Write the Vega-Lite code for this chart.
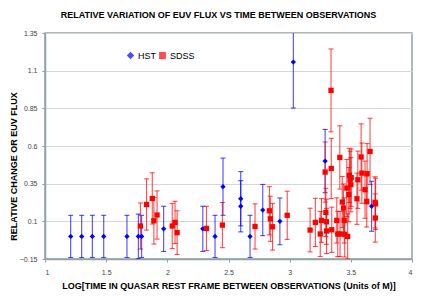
{
  "$schema": "https://vega.github.io/schema/vega-lite/v6.json",
  "width": 367,
  "height": 226,
  "autosize": {"type": "none"},
  "padding": {"left": 45, "top": 33, "right": 24, "bottom": 40},
  "background": "white",
  "title": {"text": "RELATIVE VARIATION OF EUV FLUX VS TIME BETWEEN OBSERVATIONS", "font": "Liberation Sans", "fontSize": 9, "fontWeight": "bold", "color": "#000000", "anchor": "middle", "offset": 9, "dx": -10},
  "config": {
    "view": {"stroke": "#8fa3a3", "strokeWidth": 1.5},
    "axis": {"labelFont": "Liberation Sans", "labelFontSize": 7, "labelColor": "#444444", "titleFont": "Liberation Sans", "titleFontSize": 9, "titleFontWeight": "bold", "titleColor": "#000000", "domainColor": "#8fa3a3", "domainWidth": 1.5, "tickColor": "#8fa3a3", "tickSize": 3, "format": ".3~g", "tickCount": 20, "labelOverlap": false},
    "legend": {"labelFont": "Liberation Sans", "labelFontSize": 9, "labelColor": "#000000", "gridAlign": "none"}
  },
  "data": {"values": [
    {"series": "HST", "x": 1.21, "y": 0.0, "e": 0.14},
    {"series": "HST", "x": 1.30, "y": 0.0, "e": 0.14},
    {"series": "HST", "x": 1.387, "y": 0.0, "e": 0.14},
    {"series": "HST", "x": 1.48, "y": 0.0, "e": 0.14},
    {"series": "HST", "x": 1.67, "y": 0.0, "e": 0.14},
    {"series": "HST", "x": 1.763, "y": 0.0, "e": 0.148},
    {"series": "HST", "x": 1.79, "y": 0.0, "e": 0.14},
    {"series": "HST", "x": 1.97, "y": 0.05, "e": 0.15},
    {"series": "HST", "x": 2.29, "y": 0.05, "e": 0.15},
    {"series": "HST", "x": 2.39, "y": 0.0, "e": 0.14},
    {"series": "HST", "x": 2.455, "y": 0.33, "e": 0.19},
    {"series": "HST", "x": 2.60, "y": 0.25, "e": 0.18},
    {"series": "HST", "x": 2.60, "y": 0.20, "e": 0.17},
    {"series": "HST", "x": 2.676, "y": 0.0, "e": 0.14},
    {"series": "HST", "x": 2.78, "y": 0.175, "e": 0.17},
    {"series": "HST", "x": 2.92, "y": 0.10, "e": 0.155},
    {"series": "HST", "x": 3.03, "y": 1.157, "e": 0.305},
    {"series": "HST", "x": 3.29, "y": 0.50, "e": 0.21},
    {"series": "HST", "x": 3.67, "y": 0.20, "e": 0.166},
    {"series": "SDSS", "x": 1.78, "y": 0.069, "e": 0.153},
    {"series": "SDSS", "x": 1.83, "y": 0.212, "e": 0.17},
    {"series": "SDSS", "x": 1.877, "y": 0.252, "e": 0.17},
    {"series": "SDSS", "x": 1.89, "y": 0.104, "e": 0.155},
    {"series": "SDSS", "x": 1.916, "y": 0.142, "e": 0.16},
    {"series": "SDSS", "x": 2.04, "y": 0.069, "e": 0.15},
    {"series": "SDSS", "x": 2.063, "y": 0.093, "e": 0.14},
    {"series": "SDSS", "x": 2.08, "y": 0.025, "e": 0.145},
    {"series": "SDSS", "x": 2.32, "y": 0.053, "e": 0.147},
    {"series": "SDSS", "x": 2.45, "y": 0.075, "e": 0.15},
    {"series": "SDSS", "x": 2.717, "y": 0.066, "e": 0.15},
    {"series": "SDSS", "x": 2.834, "y": 0.17, "e": 0.16},
    {"series": "SDSS", "x": 2.842, "y": 0.117, "e": 0.15},
    {"series": "SDSS", "x": 2.86, "y": 0.064, "e": 0.155},
    {"series": "SDSS", "x": 2.98, "y": 0.14, "e": 0.16},
    {"series": "SDSS", "x": 3.167, "y": 0.042, "e": 0.145},
    {"series": "SDSS", "x": 3.21, "y": 0.093, "e": 0.16},
    {"series": "SDSS", "x": 3.25, "y": 0.016, "e": 0.15},
    {"series": "SDSS", "x": 3.26, "y": 0.106, "e": 0.145},
    {"series": "SDSS", "x": 3.29, "y": 0.427, "e": 0.2},
    {"series": "SDSS", "x": 3.296, "y": 0.159, "e": 0.16},
    {"series": "SDSS", "x": 3.30, "y": 0.097, "e": 0.15},
    {"series": "SDSS", "x": 3.302, "y": 0.036, "e": 0.15},
    {"series": "SDSS", "x": 3.338, "y": 0.969, "e": 0.275},
    {"series": "SDSS", "x": 3.34, "y": 0.451, "e": 0.2},
    {"series": "SDSS", "x": 3.344, "y": 0.044, "e": 0.15},
    {"series": "SDSS", "x": 3.385, "y": 0.106, "e": 0.15},
    {"series": "SDSS", "x": 3.393, "y": 0.016, "e": 0.15},
    {"series": "SDSS", "x": 3.41, "y": 0.524, "e": 0.21},
    {"series": "SDSS", "x": 3.412, "y": 0.016, "e": 0.15},
    {"series": "SDSS", "x": 3.43, "y": 0.228, "e": 0.17},
    {"series": "SDSS", "x": 3.44, "y": 0.188, "e": 0.16},
    {"series": "SDSS", "x": 3.446, "y": 0.106, "e": 0.15},
    {"series": "SDSS", "x": 3.45, "y": 0.013, "e": 0.15},
    {"series": "SDSS", "x": 3.467, "y": 0.321, "e": 0.19},
    {"series": "SDSS", "x": 3.474, "y": 0.0, "e": 0.15},
    {"series": "SDSS", "x": 3.483, "y": 0.277, "e": 0.18},
    {"series": "SDSS", "x": 3.488, "y": 0.405, "e": 0.18},
    {"series": "SDSS", "x": 3.494, "y": 0.376, "e": 0.19},
    {"series": "SDSS", "x": 3.50, "y": 0.343, "e": 0.18},
    {"series": "SDSS", "x": 3.503, "y": 0.39, "e": 0.19},
    {"series": "SDSS", "x": 3.55, "y": 0.25, "e": 0.17},
    {"series": "SDSS", "x": 3.557, "y": 0.376, "e": 0.19},
    {"series": "SDSS", "x": 3.584, "y": 0.527, "e": 0.22},
    {"series": "SDSS", "x": 3.59, "y": 0.42, "e": 0.2},
    {"series": "SDSS", "x": 3.616, "y": 0.31, "e": 0.19},
    {"series": "SDSS", "x": 3.633, "y": 0.416, "e": 0.2},
    {"series": "SDSS", "x": 3.63, "y": 0.232, "e": 0.17},
    {"series": "SDSS", "x": 3.657, "y": 0.564, "e": 0.22},
    {"series": "SDSS", "x": 3.698, "y": 0.226, "e": 0.17},
    {"series": "SDSS", "x": 3.702, "y": 0.216, "e": 0.17},
    {"series": "SDSS", "x": 3.70, "y": 0.122, "e": 0.16}
  ]},
  "layer": [
    {
      "mark": {"type": "errorbar", "ticks": {"size": 5, "opacity": 0.7}, "rule": {"opacity": 0.7}, "clip": true, "thickness": 1.1},
      "encoding": {
        "x": {"field": "x", "type": "quantitative", "scale": {"domain": [1, 4], "nice": false, "zero": false},
              "axis": {"values": [1, 1.5, 2, 2.5, 3, 3.5, 4], "grid": false, "labelPadding": 6, "titlePadding": 6, "title": "LOG[TIME IN QUASAR REST FRAME BETWEEN OBSERVATIONS (Units of M)]"}},
        "y": {"field": "y", "type": "quantitative", "scale": {"domain": [-0.15, 1.35], "nice": false, "zero": false},
              "axis": {"values": [-0.15, 0.1, 0.35, 0.6, 0.85, 1.1, 1.35], "grid": true, "gridColor": "#d6d6d6", "labelPadding": 5, "title": "RELATIVE CHANGE OR EUV FLUX", "titleX": -27, "titleY": 133}},
        "yError": {"field": "e"},
        "color": {"field": "series", "type": "nominal", "scale": {"domain": ["HST", "SDSS"], "range": ["#0000ff", "#ff0000"]},
                  "legend": {"title": null, "orient": "none", "legendX": 81, "legendY": 18, "direction": "horizontal", "symbolSize": 28, "columnPadding": 0, "labelOffset": 3, "gridAlign": "none", "columns": 2}}
      }
    },
    {
      "mark": {"type": "point", "filled": true, "opacity": 1, "size": 28},
      "encoding": {
        "x": {"field": "x", "type": "quantitative", "axis": {"values": [1, 1.5, 2, 2.5, 3, 3.5, 4], "grid": false, "labelPadding": 6, "titlePadding": 6, "title": "LOG[TIME IN QUASAR REST FRAME BETWEEN OBSERVATIONS (Units of M)]"}},
        "y": {"field": "y", "type": "quantitative", "axis": {"values": [-0.15, 0.1, 0.35, 0.6, 0.85, 1.1, 1.35], "grid": true, "gridColor": "#d6d6d6", "labelPadding": 5, "title": "RELATIVE CHANGE OR EUV FLUX", "titleX": -27, "titleY": 133}},
        "color": {"field": "series", "type": "nominal", "scale": {"domain": ["HST", "SDSS"], "range": ["#0000ff", "#ff0000"]},
                  "legend": {"title": null, "orient": "none", "legendX": 81, "legendY": 18, "direction": "horizontal", "symbolSize": 28, "columnPadding": 0, "labelOffset": 3, "gridAlign": "none", "columns": 2}},
        "shape": {"field": "series", "type": "nominal", "scale": {"domain": ["HST", "SDSS"], "range": ["diamond", "square"]},
                  "legend": {"title": null, "orient": "none", "legendX": 81, "legendY": 18, "direction": "horizontal", "symbolSize": 28, "columnPadding": 0, "labelOffset": 3, "gridAlign": "none", "columns": 2}}
      }
    }
  ]
}
